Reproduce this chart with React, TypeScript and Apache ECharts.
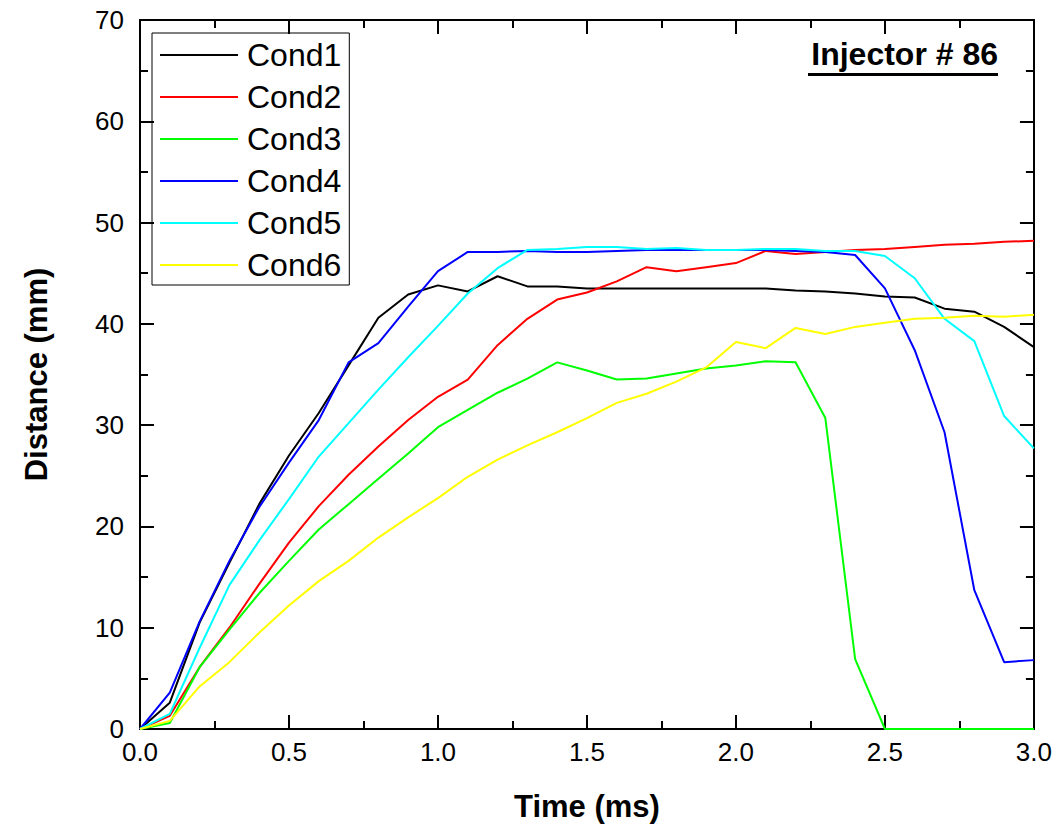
import React, { useEffect, useRef } from "react";
import * as echarts from "echarts";

const times = [0, 0.1, 0.2, 0.3, 0.4, 0.5, 0.6, 0.7, 0.8, 0.9, 1.0, 1.1, 1.2, 1.3, 1.4, 1.5, 1.6, 1.7, 1.8, 1.9, 2.0, 2.1, 2.2, 2.3, 2.4, 2.5, 2.6, 2.7, 2.8, 2.9, 3.0];
const cond1 = [0, 2.6, 10.5, 16.4, 22.2, 27.0, 31.2, 35.9, 40.6, 42.9, 43.8, 43.2, 44.7, 43.7, 43.7, 43.5, 43.5, 43.5, 43.5, 43.5, 43.5, 43.5, 43.3, 43.2, 43.0, 42.7, 42.6, 41.5, 41.2, 39.7, 37.7];
const cond2 = [0, 1.3, 6.1, 10.0, 14.3, 18.4, 22.0, 25.1, 27.9, 30.5, 32.8, 34.5, 37.9, 40.5, 42.4, 43.1, 44.2, 45.6, 45.2, 45.6, 46.0, 47.2, 46.9, 47.1, 47.3, 47.4, 47.6, 47.8, 47.9, 48.1, 48.2];
const cond3 = [0, 0.6, 6.1, 9.8, 13.4, 16.6, 19.7, 22.2, 24.7, 27.2, 29.8, 31.5, 33.2, 34.6, 36.2, 35.4, 34.5, 34.6, 35.1, 35.6, 35.9, 36.3, 36.2, 30.7, 6.9, 0, 0, 0, 0, 0, 0];
const cond4 = [0, 3.6, 10.6, 16.6, 21.9, 26.3, 30.5, 36.2, 38.1, 41.7, 45.2, 47.1, 47.1, 47.2, 47.1, 47.1, 47.2, 47.3, 47.3, 47.3, 47.3, 47.3, 47.2, 47.1, 46.8, 43.5, 37.4, 29.3, 13.7, 6.6, 6.8];
const cond5 = [0, 1.5, 8.0, 14.2, 18.6, 22.7, 26.9, 30.2, 33.5, 36.7, 39.8, 43.0, 45.5, 47.3, 47.4, 47.6, 47.6, 47.4, 47.5, 47.3, 47.3, 47.4, 47.4, 47.2, 47.2, 46.7, 44.5, 40.5, 38.3, 30.9, 27.7];
const cond6 = [0, 0.8, 4.2, 6.6, 9.5, 12.2, 14.6, 16.6, 18.9, 20.9, 22.8, 24.9, 26.6, 28.0, 29.3, 30.7, 32.2, 33.1, 34.3, 35.7, 38.2, 37.6, 39.6, 39.0, 39.7, 40.1, 40.5, 40.6, 40.8, 40.7, 40.9];

const seriesNames = ["Cond1", "Cond2", "Cond3", "Cond4", "Cond5", "Cond6"];
const seriesValues = [cond1, cond2, cond3, cond4, cond5, cond6];
const seriesColors = ["#000000", "#ff0000", "#00ff00", "#0000ff", "#00ffff", "#ffff00"];

const titleText = "Injector # 86";
const xTitle = "Time (ms)";
const yTitle = "Distance (mm)";

const FONT = "'Liberation Sans', Arial, sans-serif";

export default function App() {
  const ref = useRef<HTMLDivElement>(null);

  useEffect(() => {
    if (!ref.current) return;
    const chart = echarts.init(ref.current, undefined, { renderer: "svg" });

    const axisLine = () => ({ show: true, onZero: false, lineStyle: { color: "#000", width: 2 } });
    const axisTick = () => ({ show: true, inside: true, length: 14, lineStyle: { color: "#000", width: 2 } });
    const minorTick = () => ({ show: true, splitNumber: 2, length: 8, lineStyle: { color: "#000", width: 2 } });

    chart.setOption({
      animation: false,
      backgroundColor: "#ffffff",
      grid: { left: 140, top: 20, width: 895, height: 709, containLabel: false },
      legend: {
        show: true,
        orient: "vertical",
        left: 152,
        top: 33,
        data: seriesNames,
        icon: "rect",
        itemWidth: 78,
        itemHeight: 2,
        itemGap: 10,
        borderColor: "#000",
        borderWidth: 1,
        padding: [6, 8, 4, 8],
        textStyle: { fontFamily: FONT, fontSize: 32, color: "#000", lineHeight: 32, padding: [0, 0, 0, 4] },
      },
      xAxis: [
        {
          type: "value",
          min: 0,
          max: 3,
          interval: 0.5,
          axisLine: axisLine(),
          axisTick: axisTick(),
          minorTick: minorTick(),
          splitLine: { show: false },
          axisLabel: {
            margin: 10,
            fontFamily: FONT,
            fontSize: 26,
            color: "#000",
            formatter: (v: number) => v.toFixed(1),
          },
          name: xTitle,
          nameLocation: "middle",
          nameGap: 62,
          nameTextStyle: { fontFamily: FONT, fontSize: 31, fontWeight: "bold", color: "#000" },
        },
        {
          type: "value",
          position: "top",
          min: 0,
          max: 3,
          interval: 0.5,
          axisLine: axisLine(),
          axisTick: axisTick(),
          minorTick: minorTick(),
          splitLine: { show: false },
          axisLabel: { show: false },
        },
      ],
      yAxis: [
        {
          type: "value",
          min: 0,
          max: 70,
          interval: 10,
          axisLine: axisLine(),
          axisTick: axisTick(),
          minorTick: minorTick(),
          splitLine: { show: false },
          axisLabel: { margin: 16, fontFamily: FONT, fontSize: 26, color: "#000" },
          name: yTitle,
          nameLocation: "middle",
          nameGap: 88,
          nameTextStyle: { fontFamily: FONT, fontSize: 31, fontWeight: "bold", color: "#000" },
        },
        {
          type: "value",
          position: "right",
          min: 0,
          max: 70,
          interval: 10,
          axisLine: axisLine(),
          axisTick: axisTick(),
          minorTick: minorTick(),
          splitLine: { show: false },
          axisLabel: { show: false },
        },
      ],
      series: seriesNames.map((name, i) => ({
        name,
        type: "line",
        xAxisIndex: 0,
        yAxisIndex: 0,
        data: times.map((t, j) => [t, seriesValues[i][j]]),
        symbol: "none",
        showSymbol: false,
        color: seriesColors[i],
        itemStyle: { color: seriesColors[i] },
        lineStyle: { color: seriesColors[i], width: 2 },
        z: 2,
      })),
      graphic: [
        {
          type: "text",
          right: 57,
          top: 38,
          style: {
            text: titleText,
            fontFamily: FONT,
            fontSize: 32,
            fontWeight: "bold",
            fill: "#000",
          },
        },
        {
          type: "rect",
          shape: { x: 808, y: 73, width: 190, height: 3 },
          style: { fill: "#000" },
        },
      ],
    });

    return () => chart.dispose();
  }, []);

  return (
    <div
      ref={ref}
      style={{ position: "fixed", left: 0, top: 0, width: 1055, height: 830, background: "#fff" }}
    />
  );
}
